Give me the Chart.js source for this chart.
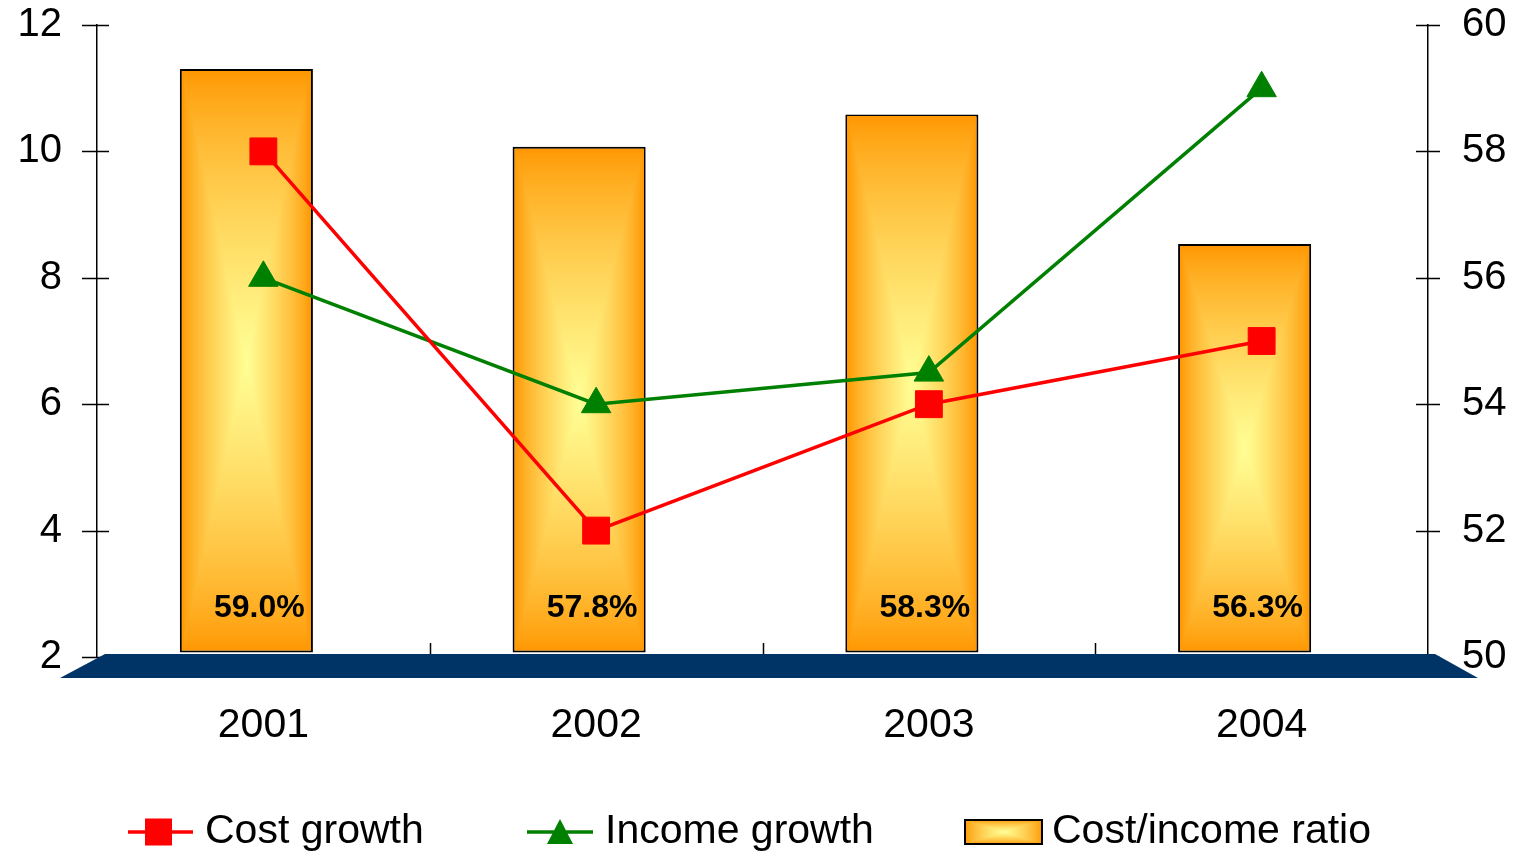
<!DOCTYPE html>
<html>
<head>
<meta charset="utf-8">
<script src="https://cdn.jsdelivr.net/npm/chart.js@4.4.0/dist/chart.umd.min.js"></script>
<style>
  html, body { margin: 0; padding: 0; background: #fff; }
  canvas { display: block; }
</style>
</head>
<body>
<canvas id="chart" width="1518" height="857"></canvas>
<script>
// categories and series
const years = ['2001', '2002', '2003', '2004'];
const costGrowth = [10, 4, 6, 7];
const incomeGrowth = [8, 6, 6.5, 11];
const costIncomeRatio = [59.0, 57.8, 58.3, 56.3];

const leftTicks = [2, 4, 6, 8, 10, 12];
const rightTicks = [50, 52, 54, 56, 58, 60];

const FONT = "'Liberation Sans', Arial, sans-serif";
const ORANGE = [255, 150, 0];
const PALE = [255, 255, 150];
const BAR_SHIFT = -17;   // bars sit slightly left of the category centre (3D look)

// rectangular "from centre" gradient: pale yellow middle, orange edges
function rectGradient(w, h) {
  w = Math.max(1, Math.round(w)); h = Math.max(1, Math.round(h));
  const c = document.createElement('canvas');
  c.width = w; c.height = h;
  const g = c.getContext('2d');
  const img = g.createImageData(w, h);
  for (let y = 0; y < h; y++) {
    const dy = Math.abs(y + 0.5 - h / 2) / (h / 2);
    for (let x = 0; x < w; x++) {
      const dx = Math.abs(x + 0.5 - w / 2) / (w / 2);
      const s = Math.pow(1 - Math.max(dx, dy), 0.75);
      const i = (y * w + x) * 4;
      img.data[i] = ORANGE[0] + (PALE[0] - ORANGE[0]) * s;
      img.data[i + 1] = ORANGE[1] + (PALE[1] - ORANGE[1]) * s;
      img.data[i + 2] = ORANGE[2] + (PALE[2] - ORANGE[2]) * s;
      img.data[i + 3] = 255;
    }
  }
  g.putImageData(img, 0, 0);
  return c;
}

function fitVertical(width) {
  return s => { s.width = width; s.paddingTop = 0; s.paddingBottom = 0; };
}

const decor = {
  id: 'decor',
  beforeDatasetsDraw(chart) {
    const { ctx, chartArea: a, scales } = chart;
    ctx.save();
    ctx.strokeStyle = '#000';
    ctx.lineWidth = 1.5;
    // tick marks crossing both value axes
    ctx.beginPath();
    leftTicks.forEach(v => {
      const y = Math.round(scales.y.getPixelForValue(v)) + 0.5;
      ctx.moveTo(a.left - 15, y); ctx.lineTo(a.left + 12, y);
    });
    rightTicks.forEach(v => {
      const y = Math.round(scales.y1.getPixelForValue(v)) + 0.5;
      ctx.moveTo(a.right - 12, y); ctx.lineTo(a.right + 12, y);
    });
    // category separators
    for (let i = 1; i < years.length; i++) {
      const x = Math.round((scales.x.getPixelForValue(i - 1) + scales.x.getPixelForValue(i)) / 2) + 0.5;
      ctx.moveTo(x, a.bottom - 14); ctx.lineTo(x, a.bottom);
    }
    ctx.stroke();
    // floor slab
    ctx.fillStyle = '#003366';
    ctx.beginPath();
    ctx.moveTo(a.left + 8, a.bottom - 3);
    ctx.lineTo(a.right + 7, a.bottom - 3);
    ctx.lineTo(a.right + 50, a.bottom + 21);
    ctx.lineTo(a.left - 37, a.bottom + 21);
    ctx.closePath();
    ctx.fill();
    ctx.restore();
  },
  beforeDatasetDraw(chart, args) {
    if (chart.data.datasets[args.index].type !== 'bar') return;
    chart.ctx.save();
    chart.ctx.translate(BAR_SHIFT, 0);
  },
  afterDatasetDraw(chart, args) {
    if (chart.data.datasets[args.index].type !== 'bar') return;
    const ctx = chart.ctx;
    const bw = 2;
    args.meta.data.forEach(bar => {
      const left = bar.x - bar.width / 2, top = bar.y;
      const w = bar.width, h = bar.base - bar.y;
      ctx.drawImage(rectGradient(w - 2 * bw, h - 2 * bw), left + bw, top + bw, w - 2 * bw, h - 2 * bw);
    });
    ctx.restore();
    // value labels
    ctx.save();
    ctx.font = `bold 32px ${FONT}`;
    ctx.fillStyle = '#000';
    ctx.textAlign = 'center';
    ctx.textBaseline = 'middle';
    args.meta.data.forEach((bar, i) => {
      const x = chart.scales.x.getPixelForValue(i) - 4;
      ctx.fillText(costIncomeRatio[i].toFixed(1) + '%', x, bar.base - 44);
    });
    ctx.restore();
  },
  afterDraw(chart) {
    const ctx = chart.ctx;
    const ly = 832;
    const ds = chart.data.datasets;
    ctx.save();
    ctx.font = `41px ${FONT}`;
    ctx.fillStyle = '#000';
    ctx.textBaseline = 'middle';
    ctx.textAlign = 'left';
    // cost growth
    ctx.strokeStyle = '#FF0000'; ctx.lineWidth = 3.5;
    ctx.beginPath(); ctx.moveTo(128, ly); ctx.lineTo(193, ly); ctx.stroke();
    ctx.fillStyle = '#FF0000';
    ctx.fillRect(145, ly - 13.5, 27, 27);
    ctx.fillStyle = '#000';
    ctx.fillText(ds[0].label, 205, ly);
    // income growth
    ctx.strokeStyle = '#008000';
    ctx.beginPath(); ctx.moveTo(527, ly); ctx.lineTo(593, ly); ctx.stroke();
    ctx.fillStyle = '#008000';
    ctx.beginPath();
    ctx.moveTo(560, ly - 13); ctx.lineTo(573, ly + 12); ctx.lineTo(547, ly + 12);
    ctx.closePath(); ctx.fill();
    ctx.fillStyle = '#000';
    ctx.fillText(ds[1].label, 605, ly);
    // cost/income ratio
    ctx.drawImage(rectGradient(77, 24), 965, ly - 12);
    ctx.strokeStyle = '#000'; ctx.lineWidth = 2;
    ctx.strokeRect(965, ly - 12, 77, 24);
    ctx.fillText(ds[2].label, 1052, ly);
    ctx.restore();
  }
};

new Chart(document.getElementById('chart'), {
  data: {
    labels: years,
    datasets: [
      {
        type: 'line', label: 'Cost growth', data: costGrowth, yAxisID: 'y', order: 1,
        borderColor: '#FF0000', backgroundColor: '#FF0000', borderWidth: 3.5,
        pointStyle: 'rect', pointRadius: 19, pointBorderWidth: 1,
        pointBackgroundColor: '#FF0000', pointBorderColor: '#FF0000', tension: 0
      },
      {
        type: 'line', label: 'Income growth', data: incomeGrowth, yAxisID: 'y', order: 2,
        borderColor: '#008000', backgroundColor: '#008000', borderWidth: 3.5,
        pointStyle: 'triangle', pointRadius: 17, pointBorderWidth: 1,
        pointBackgroundColor: '#008000', pointBorderColor: '#008000', tension: 0
      },
      {
        type: 'bar', label: 'Cost/income ratio', data: costIncomeRatio, yAxisID: 'yDepth', order: 3,
        base: 50, backgroundColor: '#FF9900', borderColor: '#000', borderWidth: 2,
        borderSkipped: false, categoryPercentage: 1, barPercentage: 0.4
      }
    ]
  },
  options: {
    responsive: false,
    animation: false,
    events: [],
    layout: { autoPadding: false, padding: { top: 25, left: 0, right: 0, bottom: 0 } },
    plugins: { legend: { display: false }, tooltip: { enabled: false } },
    scales: {
      x: {
        offset: true,
        grid: { display: false },
        border: { display: false },
        ticks: { color: '#000', font: { family: FONT, size: 41 }, padding: 36, maxRotation: 0 },
        afterFit(s) { s.height = 200; }
      },
      y: {
        position: 'left', min: 2, max: 12,
        grid: { display: false },
        border: { display: true, color: '#000', width: 1.5 },
        ticks: { stepSize: 2, color: '#000', font: { family: FONT, size: 40 }, padding: 27 },
        afterFit: fitVertical(97)
      },
      y1: {
        position: 'right', min: 50, max: 60,
        grid: { display: false },
        border: { display: true, color: '#000', width: 1.5 },
        ticks: { stepSize: 2, color: '#000', font: { family: FONT, size: 40 }, padding: 26 },
        afterFit: fitVertical(90)
      },
      // perspective scale for the bar fronts, standing slightly proud of the back axes
      yDepth: { display: false, min: 49.93, max: 59.68 }
    }
  },
  plugins: [decor]
});
</script>
</body>
</html>
